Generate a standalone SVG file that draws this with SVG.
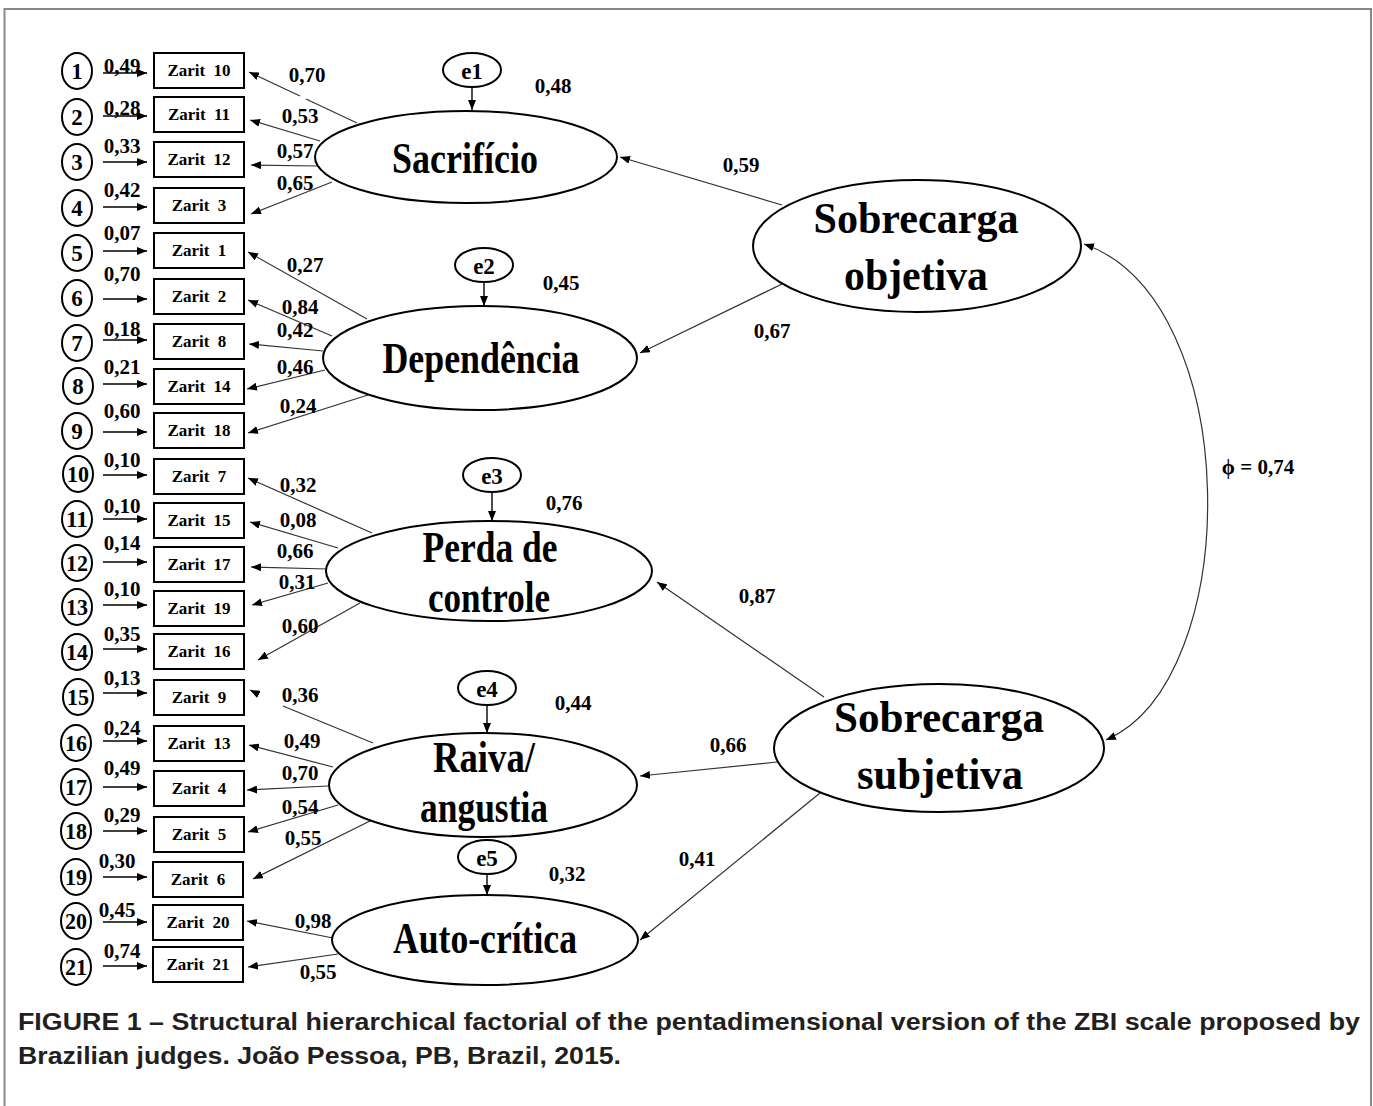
<svg xmlns="http://www.w3.org/2000/svg" width="1373" height="1106" viewBox="0 0 1373 1106">
<style>
text{font-family:"Liberation Serif","Times New Roman",serif;font-weight:bold;fill:#000;text-anchor:middle}
.num{font-size:23px}
.box{font-size:17px;word-spacing:4px}
.lbl{font-size:21px}
.el{font-size:23px}
.big{font-size:45px}
.cap{font-family:"Liberation Sans",Arial,sans-serif;font-size:23px;fill:#231f20;text-anchor:start}
.n{fill:#fff;stroke:#000;stroke-width:2}
.ln{stroke:#333;stroke-width:1.2;fill:none}
.ea{stroke:#000;stroke-width:1.4;fill:none;marker-end:url(#ah)}
</style>
<defs>
<marker id="ah" markerWidth="10" markerHeight="8" refX="10" refY="4" orient="auto" markerUnits="userSpaceOnUse"><path d="M0,0 L10,4 L0,8 z" fill="#000"/></marker>
<marker id="ah2" markerWidth="10" markerHeight="8" refX="10" refY="4" orient="auto-start-reverse" markerUnits="userSpaceOnUse"><path d="M0,0 L10,4 L0,8 z" fill="#000"/></marker>
</defs>
<rect x="4.5" y="9" width="1366.5" height="1120" fill="#fff" stroke="#888" stroke-width="2"/>

<g id="connectors">
<line class="ea" x1="103" y1="73" x2="147" y2="73"/>
<line class="ea" x1="103" y1="116" x2="147" y2="116"/>
<line class="ea" x1="103" y1="162" x2="147" y2="162"/>
<line class="ea" x1="103" y1="207" x2="147" y2="207"/>
<line class="ea" x1="103" y1="251" x2="147" y2="251"/>
<line class="ea" x1="103" y1="299" x2="147" y2="299"/>
<line class="ea" x1="103" y1="340" x2="147" y2="340"/>
<line class="ea" x1="103" y1="384" x2="147" y2="384"/>
<line class="ea" x1="103" y1="432" x2="147" y2="432"/>
<line class="ea" x1="103" y1="475" x2="147" y2="475"/>
<line class="ea" x1="103" y1="519" x2="147" y2="519"/>
<line class="ea" x1="103" y1="562" x2="147" y2="562"/>
<line class="ea" x1="103" y1="605" x2="147" y2="605"/>
<line class="ea" x1="103" y1="649" x2="147" y2="649"/>
<line class="ea" x1="103" y1="693" x2="147" y2="693"/>
<line class="ea" x1="103" y1="741" x2="147" y2="741"/>
<line class="ea" x1="103" y1="787" x2="147" y2="787"/>
<line class="ea" x1="103" y1="831" x2="147" y2="831"/>
<line class="ea" x1="103" y1="877" x2="147" y2="877"/>
<line class="ea" x1="103" y1="922" x2="147" y2="922"/>
<line class="ea" x1="103" y1="966" x2="147" y2="966"/>
<line class="ea" x1="192" y1="623" x2="201" y2="623"/>
<text class="lbl" x="122" y="73">0,49</text>
<text class="lbl" x="122" y="115">0,28</text>
<text class="lbl" x="122" y="153">0,33</text>
<text class="lbl" x="122" y="197">0,42</text>
<text class="lbl" x="122" y="240">0,07</text>
<text class="lbl" x="122" y="281">0,70</text>
<text class="lbl" x="122" y="336">0,18</text>
<text class="lbl" x="122" y="374">0,21</text>
<text class="lbl" x="122" y="418">0,60</text>
<text class="lbl" x="122" y="467">0,10</text>
<text class="lbl" x="122" y="513">0,10</text>
<text class="lbl" x="122" y="550">0,14</text>
<text class="lbl" x="122" y="596">0,10</text>
<text class="lbl" x="122" y="641">0,35</text>
<text class="lbl" x="122" y="685">0,13</text>
<text class="lbl" x="122" y="735">0,24</text>
<text class="lbl" x="122" y="775">0,49</text>
<text class="lbl" x="122" y="822">0,29</text>
<text class="lbl" x="117" y="868">0,30</text>
<text class="lbl" x="117" y="917">0,45</text>
<text class="lbl" x="122" y="958">0,74</text>

<line class="ln" x1="357" y1="123" x2="306" y2="99"/>
<line class="ln" x1="300" y1="96" x2="249" y2="72" marker-end="url(#ah)"/>
<line class="ln" x1="320" y1="141" x2="250" y2="120" marker-end="url(#ah)"/>
<line class="ln" x1="318" y1="166" x2="251" y2="165" marker-end="url(#ah)"/>
<line class="ln" x1="332" y1="182" x2="251" y2="214" marker-end="url(#ah)"/>
<text class="lbl" x="307" y="82">0,70</text>
<text class="lbl" x="300" y="123">0,53</text>
<text class="lbl" x="295" y="158">0,57</text>
<text class="lbl" x="295" y="190">0,65</text>
<line class="ln" x1="367" y1="319" x2="248" y2="252" marker-end="url(#ah)"/>
<line class="ln" x1="332" y1="336" x2="248" y2="300" marker-end="url(#ah)"/>
<line class="ln" x1="323" y1="351" x2="249" y2="344" marker-end="url(#ah)"/>
<line class="ln" x1="325" y1="370" x2="247" y2="389" marker-end="url(#ah)"/>
<line class="ln" x1="368" y1="395" x2="248" y2="433" marker-end="url(#ah)"/>
<text class="lbl" x="305" y="272">0,27</text>
<text class="lbl" x="300" y="314">0,84</text>
<text class="lbl" x="295" y="337">0,42</text>
<text class="lbl" x="295" y="374">0,46</text>
<text class="lbl" x="298" y="413">0,24</text>
<line class="ln" x1="372" y1="533" x2="248" y2="478" marker-end="url(#ah)"/>
<line class="ln" x1="338" y1="548" x2="250" y2="522" marker-end="url(#ah)"/>
<line class="ln" x1="328" y1="569" x2="251" y2="567" marker-end="url(#ah)"/>
<line class="ln" x1="328" y1="583" x2="252" y2="605" marker-end="url(#ah)"/>
<line class="ln" x1="360" y1="603" x2="258" y2="660" marker-end="url(#ah)"/>
<text class="lbl" x="298" y="492">0,32</text>
<text class="lbl" x="298" y="527">0,08</text>
<text class="lbl" x="295" y="558">0,66</text>
<text class="lbl" x="297" y="589">0,31</text>
<text class="lbl" x="300" y="633">0,60</text>
<line class="ln" x1="373" y1="743" x2="283" y2="706"/>
<line class="ln" x1="258" y1="694" x2="250" y2="690" marker-end="url(#ah)"/>
<line class="ln" x1="333" y1="767" x2="249" y2="745" marker-end="url(#ah)"/>
<line class="ln" x1="328" y1="786" x2="247" y2="790" marker-end="url(#ah)"/>
<line class="ln" x1="338" y1="805" x2="248" y2="832" marker-end="url(#ah)"/>
<line class="ln" x1="376" y1="818" x2="253" y2="879" marker-end="url(#ah)"/>
<text class="lbl" x="300" y="702">0,36</text>
<text class="lbl" x="302" y="748">0,49</text>
<text class="lbl" x="300" y="780">0,70</text>
<text class="lbl" x="300" y="814">0,54</text>
<text class="lbl" x="303" y="845">0,55</text>
<line class="ln" x1="333" y1="938" x2="247" y2="921" marker-end="url(#ah)"/>
<line class="ln" x1="338" y1="954" x2="248" y2="967" marker-end="url(#ah)"/>
<text class="lbl" x="313" y="928">0,98</text>
<text class="lbl" x="318" y="979">0,55</text>

<line class="ea" x1="472" y1="88" x2="472" y2="110"/>
<line class="ea" x1="484" y1="282" x2="484" y2="306"/>
<line class="ea" x1="492" y1="492" x2="492" y2="521"/>
<line class="ea" x1="487" y1="705" x2="487" y2="733"/>
<line class="ea" x1="487" y1="874" x2="487" y2="895"/>
<text class="lbl" x="553" y="93">0,48</text>
<text class="lbl" x="561" y="290">0,45</text>
<text class="lbl" x="564" y="510">0,76</text>
<text class="lbl" x="573" y="710">0,44</text>
<text class="lbl" x="567" y="881">0,32</text>

<line class="ln" x1="782" y1="205" x2="620" y2="157" marker-end="url(#ah)"/>
<line class="ln" x1="782" y1="284" x2="640" y2="353" marker-end="url(#ah)"/>
<line class="ln" x1="824" y1="697" x2="657" y2="582" marker-end="url(#ah)"/>
<line class="ln" x1="777" y1="762" x2="640" y2="776" marker-end="url(#ah)"/>
<line class="ln" x1="820" y1="793" x2="640" y2="940" marker-end="url(#ah)"/>
<text class="lbl" x="741" y="172">0,59</text>
<text class="lbl" x="772" y="338">0,67</text>
<text class="lbl" x="757" y="603">0,87</text>
<text class="lbl" x="728" y="752">0,66</text>
<text class="lbl" x="697" y="866">0,41</text>
<path class="ln" d="M1084,244 C1245,300 1245,680 1106,740" marker-start="url(#ah2)" marker-end="url(#ah2)"/>
<text class="lbl" x="1258" y="474">ϕ = 0,74</text>
</g>

<g id="errors">
<g id="d1"><ellipse class="n" cx="77" cy="71" rx="15" ry="18"/><text class="num" x="77" y="79">1</text></g>
<g id="d2"><ellipse class="n" cx="77" cy="117" rx="15" ry="18"/><text class="num" x="77" y="125">2</text></g>
<g id="d3"><ellipse class="n" cx="77" cy="162" rx="15" ry="18"/><text class="num" x="77" y="170">3</text></g>
<g id="d4"><ellipse class="n" cx="77" cy="208" rx="15" ry="18"/><text class="num" x="77" y="216">4</text></g>
<g id="d5"><ellipse class="n" cx="77" cy="253" rx="15" ry="18"/><text class="num" x="77" y="261">5</text></g>
<g id="d6"><ellipse class="n" cx="77" cy="298" rx="15" ry="18"/><text class="num" x="77" y="306">6</text></g>
<g id="d7"><ellipse class="n" cx="77" cy="343" rx="15" ry="18"/><text class="num" x="77" y="351">7</text></g>
<g id="d8"><ellipse class="n" cx="78" cy="386" rx="15" ry="18"/><text class="num" x="78" y="394">8</text></g>
<g id="d9"><ellipse class="n" cx="77" cy="431" rx="15" ry="18"/><text class="num" x="77" y="439">9</text></g>
<g id="d10"><ellipse class="n" cx="78" cy="474" rx="15" ry="18"/><text class="num" x="78" y="482" textLength="22" lengthAdjust="spacingAndGlyphs">10</text></g>
<g id="d11"><ellipse class="n" cx="77" cy="519" rx="15" ry="18"/><text class="num" x="77" y="527" textLength="22" lengthAdjust="spacingAndGlyphs">11</text></g>
<g id="d12"><ellipse class="n" cx="77" cy="563" rx="15" ry="18"/><text class="num" x="77" y="571" textLength="22" lengthAdjust="spacingAndGlyphs">12</text></g>
<g id="d13"><ellipse class="n" cx="77" cy="607" rx="15" ry="18"/><text class="num" x="77" y="615" textLength="22" lengthAdjust="spacingAndGlyphs">13</text></g>
<g id="d14"><ellipse class="n" cx="77" cy="652" rx="15" ry="18"/><text class="num" x="77" y="660" textLength="22" lengthAdjust="spacingAndGlyphs">14</text></g>
<g id="d15"><ellipse class="n" cx="78" cy="697" rx="15" ry="18"/><text class="num" x="78" y="705" textLength="22" lengthAdjust="spacingAndGlyphs">15</text></g>
<g id="d16"><ellipse class="n" cx="76" cy="743" rx="15" ry="18"/><text class="num" x="76" y="751" textLength="22" lengthAdjust="spacingAndGlyphs">16</text></g>
<g id="d17"><ellipse class="n" cx="76" cy="787" rx="15" ry="18"/><text class="num" x="76" y="795" textLength="22" lengthAdjust="spacingAndGlyphs">17</text></g>
<g id="d18"><ellipse class="n" cx="76" cy="831" rx="15" ry="18"/><text class="num" x="76" y="839" textLength="22" lengthAdjust="spacingAndGlyphs">18</text></g>
<g id="d19"><ellipse class="n" cx="76" cy="877" rx="15" ry="18"/><text class="num" x="76" y="885" textLength="22" lengthAdjust="spacingAndGlyphs">19</text></g>
<g id="d20"><ellipse class="n" cx="76" cy="921" rx="15" ry="18"/><text class="num" x="76" y="929" textLength="22" lengthAdjust="spacingAndGlyphs">20</text></g>
<g id="d21"><ellipse class="n" cx="76" cy="967" rx="15" ry="18"/><text class="num" x="76" y="975" textLength="22" lengthAdjust="spacingAndGlyphs">21</text></g>
</g>

<g id="items">
<g id="z10"><rect class="n" x="154" y="53" width="90" height="35"/><text class="box" x="199" y="76">Zarit 10</text></g>
<g id="z11"><rect class="n" x="154" y="97" width="90" height="35"/><text class="box" x="199" y="120">Zarit 11</text></g>
<g id="z12"><rect class="n" x="154" y="142" width="90" height="35"/><text class="box" x="199" y="165">Zarit 12</text></g>
<g id="z3"><rect class="n" x="154" y="188" width="90" height="35"/><text class="box" x="199" y="211">Zarit 3</text></g>
<g id="z1"><rect class="n" x="154" y="233" width="90" height="35"/><text class="box" x="199" y="256">Zarit 1</text></g>
<g id="z2"><rect class="n" x="154" y="279" width="90" height="35"/><text class="box" x="199" y="302">Zarit 2</text></g>
<g id="z8"><rect class="n" x="154" y="324" width="90" height="35"/><text class="box" x="199" y="347">Zarit 8</text></g>
<g id="z14"><rect class="n" x="154" y="369" width="90" height="35"/><text class="box" x="199" y="392">Zarit 14</text></g>
<g id="z18"><rect class="n" x="154" y="413" width="90" height="35"/><text class="box" x="199" y="436">Zarit 18</text></g>
<g id="z7"><rect class="n" x="154" y="459" width="90" height="35"/><text class="box" x="199" y="482">Zarit 7</text></g>
<g id="z15"><rect class="n" x="154" y="503" width="90" height="35"/><text class="box" x="199" y="526">Zarit 15</text></g>
<g id="z17"><rect class="n" x="154" y="547" width="90" height="35"/><text class="box" x="199" y="570">Zarit 17</text></g>
<g id="z19"><rect class="n" x="154" y="591" width="90" height="35"/><text class="box" x="199" y="614">Zarit 19</text></g>
<g id="z16"><rect class="n" x="154" y="634" width="90" height="35"/><text class="box" x="199" y="657">Zarit 16</text></g>
<g id="z9"><rect class="n" x="154" y="680" width="90" height="35"/><text class="box" x="199" y="703">Zarit 9</text></g>
<g id="z13"><rect class="n" x="154" y="726" width="90" height="35"/><text class="box" x="199" y="749">Zarit 13</text></g>
<g id="z4"><rect class="n" x="154" y="771" width="90" height="35"/><text class="box" x="199" y="794">Zarit 4</text></g>
<g id="z5"><rect class="n" x="154" y="817" width="90" height="35"/><text class="box" x="199" y="840">Zarit 5</text></g>
<g id="z6"><rect class="n" x="153" y="862" width="90" height="35"/><text class="box" x="198" y="885">Zarit 6</text></g>
<g id="z20"><rect class="n" x="153" y="905" width="90" height="35"/><text class="box" x="198" y="928">Zarit 20</text></g>
<g id="z21"><rect class="n" x="153" y="947" width="90" height="35"/><text class="box" x="198" y="970">Zarit 21</text></g>
</g>

<g id="disturbances">
<g id="e1"><ellipse class="n" cx="472" cy="70" rx="29" ry="17"/><text class="el" x="472" y="79">e1</text></g>
<g id="e2"><ellipse class="n" cx="484" cy="265" rx="29" ry="17"/><text class="el" x="484" y="274">e2</text></g>
<g id="e3"><ellipse class="n" cx="492" cy="475" rx="29" ry="17"/><text class="el" x="492" y="484">e3</text></g>
<g id="e4"><ellipse class="n" cx="487" cy="688" rx="29" ry="17"/><text class="el" x="487" y="697">e4</text></g>
<g id="e5"><ellipse class="n" cx="487" cy="857" rx="29" ry="17"/><text class="el" x="487" y="866">e5</text></g>
</g>

<g id="factors">
<g id="sacrificio"><ellipse class="n" cx="466" cy="157" rx="151" ry="46"/><text class="big" x="465" y="173" textLength="146" lengthAdjust="spacingAndGlyphs">Sacrifício</text></g>
<g id="dependencia"><ellipse class="n" cx="480" cy="358" rx="157" ry="52"/><text class="big" x="481" y="373" textLength="197" lengthAdjust="spacingAndGlyphs">Dependência</text></g>
<g id="perda"><ellipse class="n" cx="489" cy="571" rx="163" ry="50"/><text class="big" x="490" y="562" textLength="135" lengthAdjust="spacingAndGlyphs">Perda de</text><text class="big" x="489" y="612" textLength="122" lengthAdjust="spacingAndGlyphs">controle</text></g>
<g id="raiva"><ellipse class="n" cx="483" cy="785" rx="154" ry="52"/><text class="big" x="484" y="772" textLength="102" lengthAdjust="spacingAndGlyphs">Raiva/</text><text class="big" x="484" y="822" textLength="128" lengthAdjust="spacingAndGlyphs">angustia</text></g>
<g id="autocritica"><ellipse class="n" cx="485" cy="940" rx="153" ry="45"/><text class="big" x="485" y="953" textLength="184" lengthAdjust="spacingAndGlyphs">Auto-crítica</text></g>
<g id="objetiva"><ellipse class="n" cx="917" cy="246" rx="164" ry="66"/><text class="big" x="916" y="233" textLength="205" lengthAdjust="spacingAndGlyphs">Sobrecarga</text><text class="big" x="916" y="290" textLength="144" lengthAdjust="spacingAndGlyphs">objetiva</text></g>
<g id="subjetiva"><ellipse class="n" cx="939" cy="748" rx="165" ry="64"/><text class="big" x="939" y="732" textLength="210" lengthAdjust="spacingAndGlyphs">Sobrecarga</text><text class="big" x="940" y="789" textLength="166" lengthAdjust="spacingAndGlyphs">subjetiva</text></g>
</g>

<g id="caption">
<text class="cap" x="18" y="1030" textLength="1342" lengthAdjust="spacingAndGlyphs">FIGURE 1 – Structural hierarchical factorial of the pentadimensional version of the ZBI scale proposed by</text>
<text class="cap" x="18" y="1064" textLength="603" lengthAdjust="spacingAndGlyphs">Brazilian judges. João Pessoa, PB, Brazil, 2015.</text>
</g>
</svg>
